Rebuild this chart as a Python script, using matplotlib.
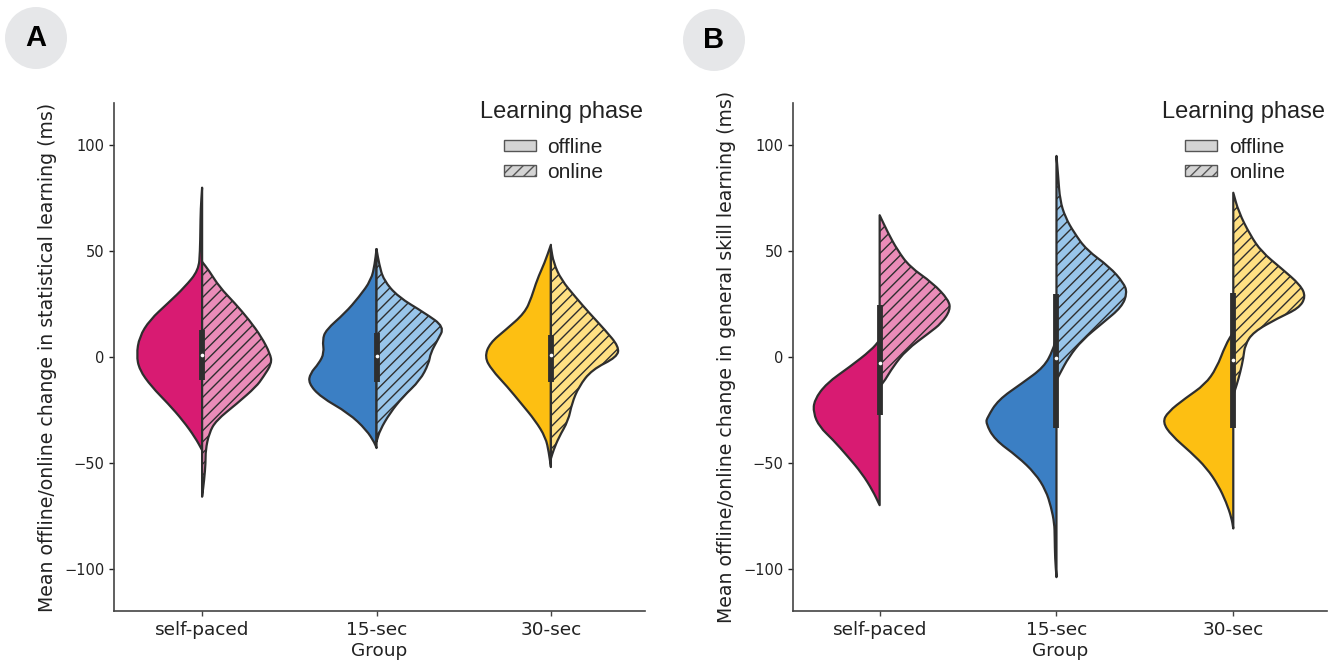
import numpy as np
import matplotlib
matplotlib.use('Agg')
import matplotlib.pyplot as plt
from matplotlib.path import Path
from matplotlib.patches import PathPatch, Patch, Ellipse

plt.rcParams['font.family'] = ['DejaVu Sans']
plt.rcParams['hatch.linewidth'] = 1.0

groups = ['self-paced', '15-sec', '30-sec']
off_colors = ['#d81b72', '#3b7fc4', '#fdbf12']
on_colors = ['#ea8cb8', '#98c5ea', '#ffe083']

# violin outlines: levels (ms) and half widths (x units)
# panel A - statistical learning
a_sp_off_y = [-44, -38, -30, -22, -14, -6, 1, 9.5, 17.5, 25.5, 33, 41, 50, 60, 70, 80]
a_sp_off_w = [0, 0.04, 0.11, 0.195, 0.29, 0.36, 0.376, 0.36, 0.30, 0.195, 0.10, 0.02, 0.012, 0.01, 0.008, 0]
a_sp_on_y = [-66, -58, -50, -44, -36, -30, -22, -14, -9.5, -3, 1.6, 9.5, 17.5, 25.5, 33, 41, 45]
a_sp_on_w = [0, 0.012, 0.02, 0.02, 0.04, 0.08, 0.2, 0.31, 0.35, 0.40, 0.39, 0.34, 0.27, 0.187, 0.1, 0.038, 0]
a_15_off_y = [-43, -40.7, -34.5, -26.5, -18.9, -12.4, -7.7, -3, 1.9, 8, 12.8, 20.8, 28.4, 36.4, 44, 51]
a_15_off_w = [0, 0.01, 0.057, 0.16, 0.32, 0.39, 0.38, 0.33, 0.30, 0.31, 0.29, 0.18, 0.10, 0.03, 0.01, 0]
a_15_on_y = [-40, -34.5, -26.5, -18.9, -11, -3, 1.9, 8, 14.2, 20.8, 28.4, 36.4, 44, 51]
a_15_on_w = [0, 0.02, 0.077, 0.15, 0.25, 0.30, 0.31, 0.35, 0.39, 0.277, 0.124, 0.04, 0.015, 0]
a_30_off_y = [-52, -45, -38, -30, -22, -14, -6, 0, 6.6, 12.8, 20.8, 28.4, 36.4, 44.5, 53]
a_30_off_w = [0, 0.012, 0.03, 0.09, 0.17, 0.25, 0.34, 0.38, 0.35, 0.26, 0.15, 0.11, 0.08, 0.036, 0]
a_30_on_y = [-48, -44, -38, -30, -22, -14, -6, 0, 4.9, 12.8, 20.8, 28.4, 36.4, 44.5, 52]
a_30_on_w = [0, 0.015, 0.045, 0.10, 0.12, 0.16, 0.235, 0.38, 0.39, 0.31, 0.22, 0.14, 0.06, 0.015, 0]

# panel B - general skill learning
b_sp_off_y = [-70, -63, -55, -47, -39, -33, -26.5, -20.3, -12.4, -4.7, 3.3, 8]
b_sp_off_w = [0, 0.04, 0.10, 0.18, 0.265, 0.34, 0.375, 0.37, 0.30, 0.17, 0.047, 0]
b_sp_on_y = [-14, -11, -4.7, 3.3, 11.4, 16, 22.2, 27, 35, 42.6, 50.6, 58.7, 67]
b_sp_on_w = [0, 0.03, 0.075, 0.15, 0.28, 0.35, 0.40, 0.39, 0.30, 0.17, 0.10, 0.047, 0]
b_15_off_y = [-104, -95, -85, -78.6, -71, -63, -55, -47, -39, -31.2, -28.4, -20.3, -12.4, -4.7, 3.3, 9.5]
b_15_off_w = [0, 0.008, 0.01, 0.012, 0.03, 0.06, 0.12, 0.22, 0.35, 0.40, 0.39, 0.33, 0.195, 0.07, 0.02, 0]
b_15_on_y = [-11, -7.7, 0, 8, 16, 23.7, 30.3, 35, 42.6, 50.6, 58.7, 66, 74, 85, 95]
b_15_on_w = [0, 0.02, 0.07, 0.145, 0.26, 0.37, 0.40, 0.38, 0.30, 0.17, 0.10, 0.05, 0.02, 0.01, 0]
b_30_off_y = [-81, -76, -68.6, -60.6, -52.5, -45, -37, -30.8, -26, -19.4, -13, -5.2, 5.7, 11.8]
b_30_off_w = [0, 0.01, 0.04, 0.085, 0.15, 0.24, 0.35, 0.40, 0.37, 0.27, 0.16, 0.094, 0.044, 0]
b_30_on_y = [-18, -13, -7, -0.5, 5.7, 11.8, 18.5, 23, 28.4, 34, 42, 49.7, 57.7, 68.6, 77.6]
b_30_on_w = [0, 0.02, 0.04, 0.057, 0.066, 0.113, 0.255, 0.37, 0.41, 0.38, 0.27, 0.16, 0.095, 0.03, 0]

# inner box: q1, q3, median per group
a_q1 = [-11, -11.8, -11.8]
a_q3 = [12.8, 11.4, 10.4]
a_med = [1, 0.5, 0.8]
b_q1 = [-27.4, -33.6, -33.6]
b_q3 = [24.6, 30, 30.3]
b_med = [-2.8, -0.5, -1.4]

EDGE = '#2e2e2e'
TXT = '#222222'


def half_violin(ax, pos, ys, ws, side, color, hatch=None):
    # smooth outline (quadratic bezier through midpoints), closed along the centre
    pts = [(pos + side * w, y) for y, w in zip(ys, ws)]
    verts = [pts[0]]
    codes = [Path.MOVETO]
    mids = [((pts[i][0] + pts[i + 1][0]) / 2, (pts[i][1] + pts[i + 1][1]) / 2) for i in range(len(pts) - 1)]
    verts.append(mids[0])
    codes.append(Path.LINETO)
    for i in range(1, len(pts) - 1):
        verts += [pts[i], mids[i]]
        codes += [Path.CURVE3, Path.CURVE3]
    verts.append(pts[-1])
    codes.append(Path.LINETO)
    verts.append((pos, ys[0]))
    codes.append(Path.LINETO)
    verts.append((pos, ys[0]))
    codes.append(Path.CLOSEPOLY)
    ax.add_patch(PathPatch(Path(verts, codes), facecolor=color, edgecolor=EDGE,
                           lw=1.6, hatch=hatch, joinstyle='round', zorder=2))


def panel(ax, off, on, q1, q3, med, ylabel, xlim):
    for i in range(3):
        half_violin(ax, i, off[i][0], off[i][1], -1, off_colors[i])
        half_violin(ax, i, on[i][0], on[i][1], 1, on_colors[i], hatch='///')
        ax.plot([i, i], [q1[i], q3[i]], color=EDGE, lw=4.2, solid_capstyle='butt', zorder=3)
        ax.scatter([i], [med[i]], s=7, color='white', zorder=4, linewidths=0)
    ax.set_xlim(*xlim)
    ax.set_ylim(-120, 120)
    ax.set_yticks([-100, -50, 0, 50, 100])
    ax.set_xticks(range(3))
    ax.set_xticklabels(groups, fontsize=13.3, color=TXT)
    ax.tick_params(axis='y', labelsize=10.5, colors=TXT, length=3.5, width=1.0)
    ax.tick_params(axis='x', length=3.5, width=1.0, color='#444444', pad=4)
    ax.set_xlabel('Group', fontsize=13.3, color=TXT, labelpad=2)
    ax.set_ylabel(ylabel, fontsize=13.6, color=TXT, labelpad=5)
    for s in ['top', 'right']:
        ax.spines[s].set_visible(False)
    for s in ['left', 'bottom']:
        ax.spines[s].set_color('#444444')
        ax.spines[s].set_linewidth(1.2)
    # legend: entries plus a separate title above them
    handles = [Patch(facecolor='#d4d4d4', edgecolor='#555555', label='offline'),
               Patch(facecolor='#d4d4d4', edgecolor='#555555', hatch='///', label='online')]
    leg = ax.legend(handles=handles, loc='upper left', bbox_to_anchor=(0.734, 0.932),
                    frameon=False, borderpad=0, borderaxespad=0,
                    prop={'family': 'Liberation Sans', 'size': 15},
                    handlelength=1.55, handleheight=0.45, handletextpad=0.55,
                    labelspacing=0.32)
    for t in leg.get_texts():
        t.set_color(TXT)
    ax.text(0.843, 0.982, 'Learning phase', transform=ax.transAxes, ha='center', va='center',
            fontsize=17, family='Liberation Sans', color=TXT)


fig = plt.figure(figsize=(13.4, 6.62), dpi=100)
axA = fig.add_axes([0.0851, 0.0770, 0.3963, 0.7674])
axB = fig.add_axes([0.5918, 0.0770, 0.3985, 0.7674])

panel(axA,
      [(a_sp_off_y, a_sp_off_w), (a_15_off_y, a_15_off_w), (a_30_off_y, a_30_off_w)],
      [(a_sp_on_y, a_sp_on_w), (a_15_on_y, a_15_on_w), (a_30_on_y, a_30_on_w)],
      a_q1, a_q3, a_med,
      'Mean offline/online change in statistical learning (ms)', (-0.505, 2.54))
panel(axB,
      [(b_sp_off_y, b_sp_off_w), (b_15_off_y, b_15_off_w), (b_30_off_y, b_30_off_w)],
      [(b_sp_on_y, b_sp_on_w), (b_15_on_y, b_15_on_w), (b_30_on_y, b_30_on_w)],
      b_q1, b_q3, b_med,
      'Mean offline/online change in general skill learning (ms)', (-0.49, 2.53))

# panel badges
for cx, cy, letter in [(36, 38, 'A'), (714, 40, 'B')]:
    fx, fy = cx / 1340, 1 - cy / 662
    fig.add_artist(Ellipse((fx, fy), 62 / 1340, 62 / 662, transform=fig.transFigure,
                           facecolor='#e6e7e9', edgecolor='none'))
    fig.text(fx, fy, letter, ha='center', va='center', fontsize=21, fontweight='bold',
             family='Liberation Sans', color='black')

fig.savefig('out.png', dpi=100)
